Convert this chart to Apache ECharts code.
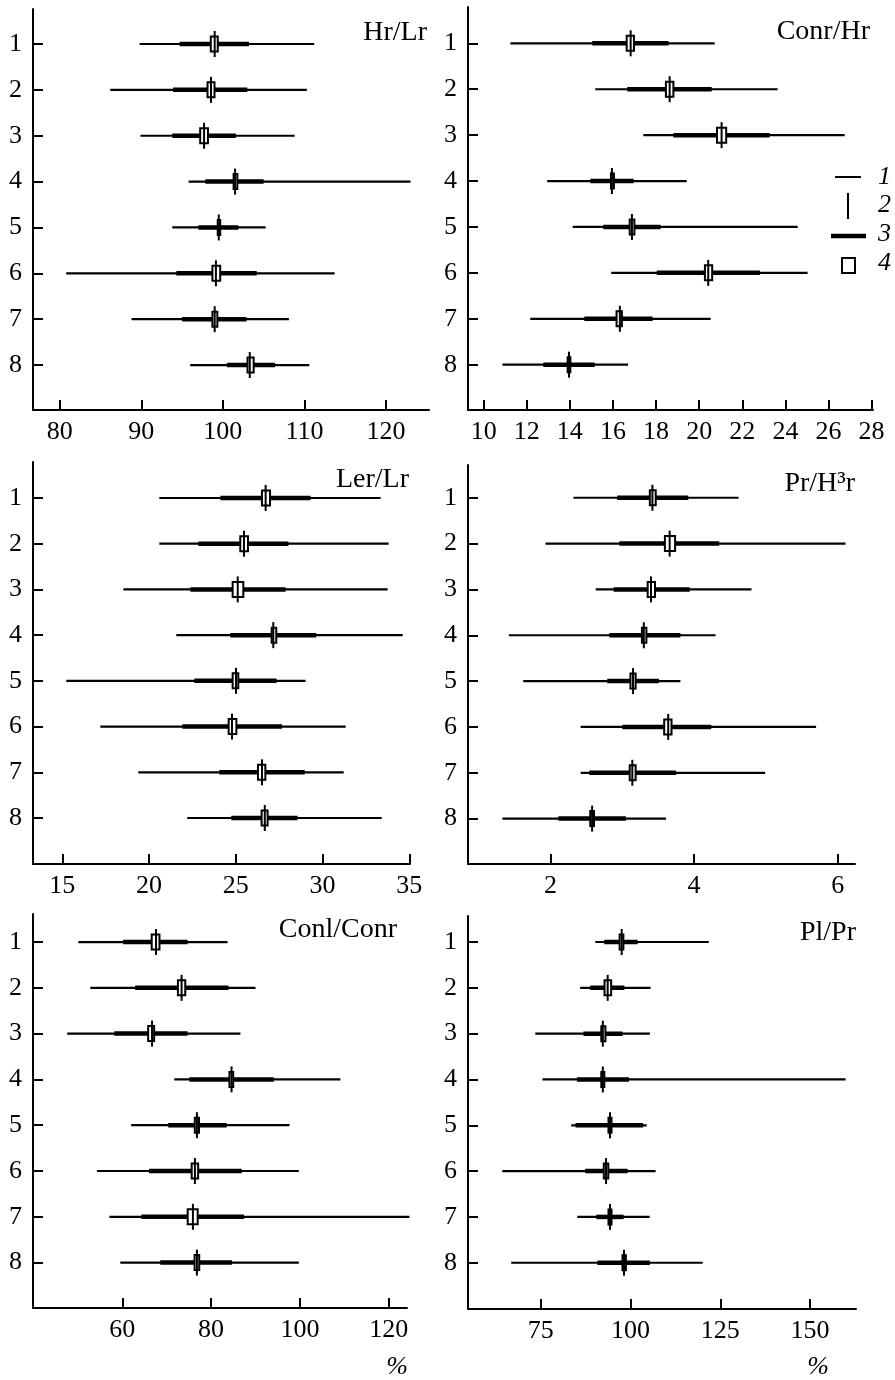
<!DOCTYPE html>
<html>
<head>
<meta charset="utf-8">
<script src="https://cdn.jsdelivr.net/npm/echarts@6/dist/echarts.min.js"></script>
<style>
html,body{margin:0;padding:0;background:#fff;}
#chart{width:895px;height:1380px;}
</style>
</head>
<body>
<div id="chart"></div>
<script>
// Row labels (categories)
const rows = [1, 2, 3, 4, 5, 6, 7, 8];

// Each row: [min, thickLo, boxLo, median, boxHi, thickHi, max]
const hrLr = [
  [89.8, 94.7, 98.4, 99.0, 99.5, 103.2, 111.2],
  [86.2, 93.9, 98.0, 98.55, 99.1, 103.0, 110.3],
  [89.9, 93.8, 97.1, 97.7, 98.3, 101.6, 108.8],
  [95.8, 97.85, 101.2, 101.5, 101.9, 105.0, 123.0],
  [93.8, 97.0, 99.25, 99.5, 99.8, 101.9, 105.25],
  [80.8, 94.3, 98.6, 99.15, 99.8, 104.15, 113.7],
  [88.8, 95.0, 98.6, 99.0, 99.45, 102.9, 108.1],
  [96.0, 100.5, 102.9, 103.3, 103.9, 106.4, 110.6]
];
const conrHr = [
  [11.24, 15.04, 16.59, 16.82, 17.02, 18.58, 20.72],
  [15.18, 16.66, 18.41, 18.63, 18.85, 20.58, 23.64],
  [17.41, 18.8, 20.78, 21.04, 21.3, 23.27, 26.75],
  [12.95, 14.95, 15.86, 15.95, 16.09, 16.96, 19.42],
  [14.13, 15.55, 16.73, 16.88, 17.04, 18.21, 24.57],
  [15.92, 18.03, 20.22, 20.42, 20.65, 22.82, 25.03],
  [12.16, 14.67, 16.12, 16.32, 16.46, 17.84, 20.53],
  [10.87, 12.77, 13.85, 13.96, 14.07, 15.15, 16.7]
];
const lerLr = [
  [20.59, 24.11, 26.45, 26.72, 27.03, 29.31, 33.35],
  [20.59, 22.84, 25.2, 25.47, 25.76, 28.03, 33.81],
  [18.52, 22.38, 24.76, 25.11, 25.49, 27.87, 33.75],
  [21.57, 24.68, 27.01, 27.16, 27.39, 29.64, 34.62],
  [15.23, 22.61, 24.76, 25.01, 25.2, 27.35, 29.02],
  [17.19, 21.92, 24.53, 24.78, 25.09, 27.66, 31.33],
  [19.38, 24.05, 26.22, 26.51, 26.76, 28.97, 31.22],
  [22.2, 24.74, 26.43, 26.67, 26.89, 28.56, 33.41]
];
const prH3r = [
  [2.32, 2.93, 3.37, 3.42, 3.48, 3.92, 4.62],
  [1.93, 2.96, 3.58, 3.66, 3.75, 4.35, 6.11],
  [2.63, 2.88, 3.34, 3.40, 3.47, 3.94, 4.8],
  [1.42, 2.82, 3.26, 3.30, 3.35, 3.81, 4.3],
  [1.62, 2.79, 3.10, 3.15, 3.20, 3.51, 3.81],
  [2.42, 3.0, 3.57, 3.64, 3.70, 4.24, 5.7],
  [2.42, 2.54, 3.09, 3.14, 3.20, 3.75, 4.99],
  [1.33, 2.11, 2.54, 2.58, 2.62, 3.05, 3.61]
];
const conlConr = [
  [50.1, 60.2, 66.4, 67.6, 68.6, 74.7, 83.7],
  [52.8, 62.9, 72.3, 73.35, 74.4, 83.9, 90.0],
  [47.6, 58.2, 65.6, 66.7, 67.4, 74.7, 86.6],
  [71.7, 75.1, 83.9, 84.6, 85.2, 94.1, 109.1],
  [62.0, 70.35, 76.1, 76.8, 77.5, 83.5, 97.65],
  [54.3, 66.0, 75.4, 76.35, 77.3, 86.9, 99.75],
  [57.1, 64.3, 74.5, 75.9, 77.2, 87.4, 124.65],
  [59.55, 68.55, 76.05, 76.8, 77.55, 84.7, 99.75]
];
const plPr = [
  [90.2, 92.7, 96.7, 97.55, 98.3, 102.0, 121.8],
  [86.0, 88.8, 92.5, 93.65, 94.9, 98.3, 105.6],
  [73.5, 86.9, 91.6, 92.3, 93.3, 97.8, 105.4],
  [75.5, 85.1, 91.6, 92.3, 93.0, 99.6, 159.9],
  [83.5, 84.7, 93.6, 94.3, 95.0, 103.5, 104.5],
  [64.3, 87.4, 92.3, 93.2, 94.1, 99.2, 107.0],
  [85.2, 90.5, 93.6, 94.3, 95.0, 98.1, 105.35],
  [66.8, 90.8, 97.5, 98.2, 99.0, 105.4, 120.1]
];

// Tick labels
const ticksHrLr = [80, 90, 100, 110, 120];
const ticksConrHr = [10, 12, 14, 16, 18, 20, 22, 24, 26, 28];
const ticksLerLr = [15, 20, 25, 30, 35];
const ticksPrH3r = [2, 4, 6];
const ticksConlConr = [60, 80, 100, 120];
const ticksPlPr = [75, 100, 125, 150];

const titles = ['Hr/Lr', 'Conr/Hr', 'Ler/Lr', 'Pr/H³r', 'Conl/Conr', 'Pl/Pr'];
const legendLabels = ['1', '2', '3', '4'];
const unitLabel = '%';

const FONT = '"Liberation Serif", "DejaVu Serif", serif';

const panels = [
  {data: hrLr, ticks: ticksHrLr, grid: {left: 33, top: 9, width: 396, height: 401}, x: [76.73, 125.27], y: [0.237, 8.98]},
  {data: conrHr, ticks: ticksConrHr, grid: {left: 468, top: 7, width: 405, height: 403}, x: [9.273, 28.066], y: [0.209, 8.987]},
  {data: lerLr, ticks: ticksLerLr, grid: {left: 33, top: 462, width: 377, height: 402}, x: [13.31, 35.04], y: [0.2125, 9.006]},
  {data: prH3r, ticks: ticksPrH3r, grid: {left: 468, top: 465, width: 387, height: 399}, x: [0.851, 6.242], y: [0.286, 8.99]},
  {data: conlConr, ticks: ticksConlConr, grid: {left: 33, top: 914, width: 374, height: 394}, x: [39.9, 124.1], y: [0.388, 8.992]},
  {data: plPr, ticks: ticksPlPr, grid: {left: 468, top: 916, width: 388, height: 393}, x: [54.76, 162.8], y: [0.432, 9.01]}
];

const axisLineStyle = {color: '#000', width: 2};

function renderItem(params, api) {
  const yv = api.value(0);
  const c = v => api.coord([v, yv]);
  const pMin = c(api.value(1)), pQ1 = c(api.value(2)), pBL = c(api.value(3));
  const pMed = c(api.value(4)), pBH = c(api.value(5)), pQ3 = c(api.value(6)), pMax = c(api.value(7));
  const yy = pMin[1];
  const bx0 = pBL[0] + 1, bx1 = pBH[0] - 1;
  return {
    type: 'group',
    children: [
      {type: 'line', shape: {x1: pMin[0], y1: yy, x2: pMax[0], y2: yy}, style: {stroke: '#000', lineWidth: 2.2}},
      {type: 'line', shape: {x1: pQ1[0], y1: yy, x2: pQ3[0], y2: yy}, style: {stroke: '#000', lineWidth: 4.5}},
      {type: 'rect', shape: {x: bx0, y: yy - 7.5, width: Math.max(bx1 - bx0, 0.5), height: 15}, style: {fill: '#fff', stroke: '#000', lineWidth: 2}},
      {type: 'line', shape: {x1: pMed[0], y1: yy - 13, x2: pMed[0], y2: yy + 13}, style: {stroke: '#000', lineWidth: 2}}
    ]
  };
}

const grid = [], xAxis = [], yAxis = [], series = [];
panels.forEach((p, i) => {
  grid.push(Object.assign({containLabel: false}, p.grid));
  xAxis.push({
    type: 'value', gridIndex: i, min: p.x[0], max: p.x[1],
    axisLine: {show: true, onZero: false, lineStyle: axisLineStyle},
    axisTick: {show: true, inside: true, length: 10, lineStyle: axisLineStyle, customValues: p.ticks},
    axisLabel: {show: true, customValues: p.ticks, margin: 9, color: '#000', fontFamily: FONT, fontSize: 26, formatter: v => String(v)},
    splitLine: {show: false}
  });
  yAxis.push({
    type: 'value', gridIndex: i, inverse: true, min: p.y[0], max: p.y[1],
    axisLine: {show: true, onZero: false, lineStyle: axisLineStyle},
    axisTick: {show: true, inside: true, length: 10, lineStyle: axisLineStyle, customValues: rows},
    axisLabel: {show: true, customValues: rows, margin: 11, color: '#000', fontFamily: FONT, fontSize: 26, formatter: v => String(v)},
    splitLine: {show: false}
  });
  series.push({
    type: 'custom', xAxisIndex: i, yAxisIndex: i,
    renderItem: renderItem,
    encode: {x: [1, 2, 3, 4, 5, 6, 7], y: 0},
    data: p.data.map((r, k) => [rows[k]].concat(r)),
    silent: true, clip: false
  });
});

const titlePos = [
  {x: 427, y: 33}, {x: 870, y: 32}, {x: 409, y: 480},
  {x: 855, y: 484}, {x: 397, y: 930}, {x: 856, y: 933}
];
const graphic = [];
titles.forEach((t, i) => {
  graphic.push({type: 'text', x: titlePos[i].x, y: titlePos[i].y, silent: true,
    style: {text: t, fill: '#000', font: '28px ' + FONT, textAlign: 'right', textVerticalAlign: 'middle'}});
});
// "%" unit labels
[{x: 397, y: 1367}, {x: 818, y: 1367}].forEach(pos => {
  graphic.push({type: 'text', x: pos.x, y: pos.y, silent: true,
    style: {text: unitLabel, fill: '#000', font: 'italic 26px ' + FONT, textAlign: 'center', textVerticalAlign: 'middle'}});
});
// Legend
graphic.push({type: 'line', silent: true, shape: {x1: 835, y1: 177, x2: 861, y2: 177}, style: {stroke: '#000', lineWidth: 2}});
graphic.push({type: 'line', silent: true, shape: {x1: 848, y1: 193, x2: 848, y2: 219}, style: {stroke: '#000', lineWidth: 2}});
graphic.push({type: 'line', silent: true, shape: {x1: 831, y1: 236, x2: 866, y2: 236}, style: {stroke: '#000', lineWidth: 4.5}});
graphic.push({type: 'rect', silent: true, shape: {x: 842, y: 258, width: 13, height: 15}, style: {fill: '#fff', stroke: '#000', lineWidth: 2}});
[177, 205, 234, 263].forEach((y, i) => {
  graphic.push({type: 'text', x: 878, y: y, silent: true,
    style: {text: legendLabels[i], fill: '#000', font: 'italic 26px ' + FONT, textAlign: 'left', textVerticalAlign: 'middle'}});
});

const chart = echarts.init(document.getElementById('chart'), null, {renderer: 'canvas'});
chart.setOption({
  backgroundColor: '#fff',
  animation: false,
  grid, xAxis, yAxis, series, graphic
});
</script>
</body>
</html>
